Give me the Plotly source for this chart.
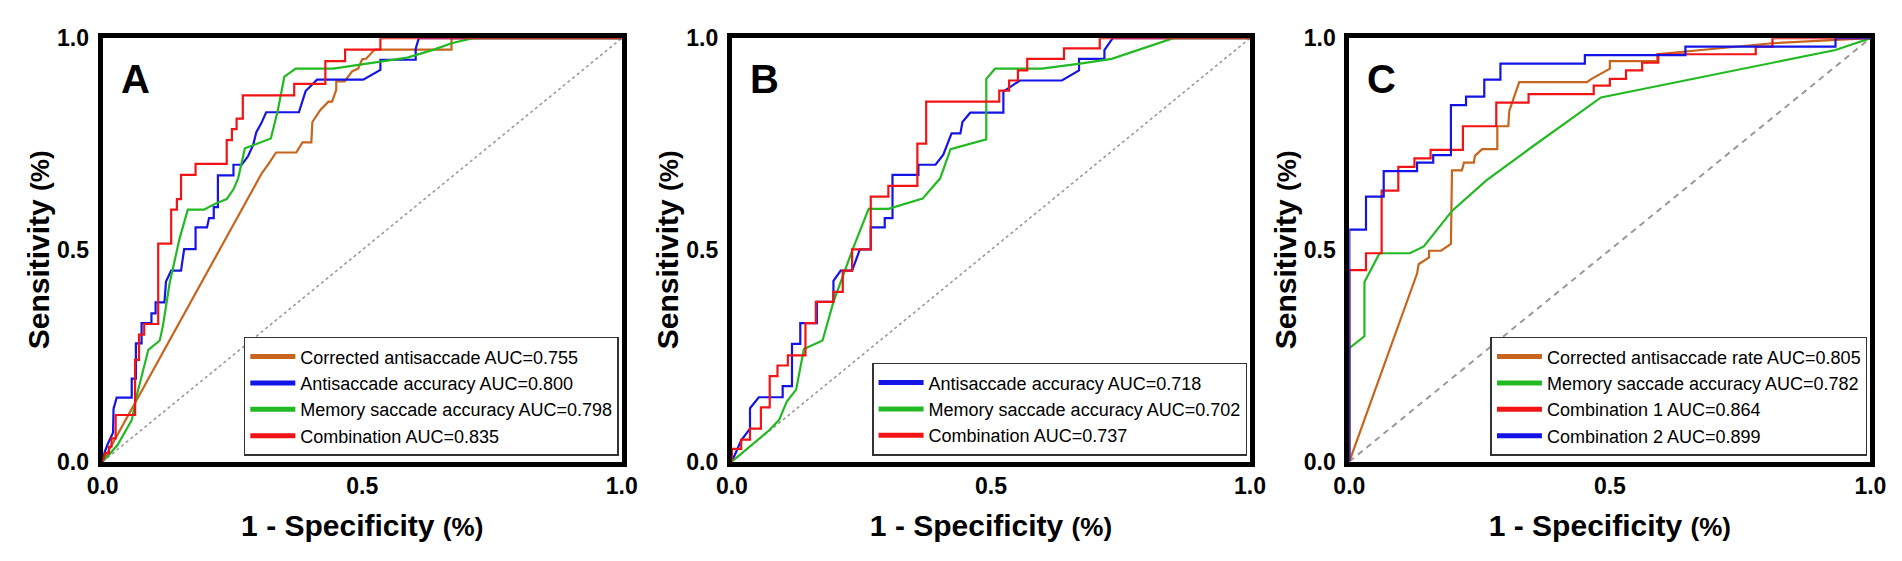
import plotly.graph_objects as go

# ---- panel A ----
a_corr_x = [0, 0.307, 0.319, 0.334, 0.373, 0.385, 0.402, 0.404, 0.419, 0.435, 0.442, 0.45, 0.45, 0.466,
            0.481, 0.492, 0.5, 0.508, 0.524, 0.672, 0.672, 1]
a_corr_y = [0, 0.682, 0.702, 0.73, 0.73, 0.754, 0.754, 0.802, 0.83, 0.85, 0.85, 0.878, 0.898, 0.898,
            0.922, 0.928, 0.95, 0.952, 0.973, 0.973, 1.0, 1]
a_anti_x = [0, 0.004, 0.01, 0.02, 0.021, 0.027, 0.056, 0.056, 0.064, 0.064, 0.075, 0.075, 0.094, 0.094,
            0.102, 0.102, 0.119, 0.122, 0.132, 0.151, 0.157, 0.179, 0.179, 0.201, 0.205, 0.214, 0.214,
            0.222, 0.222, 0.252, 0.252, 0.268, 0.28, 0.29, 0.296, 0.306, 0.315, 0.378, 0.391, 0.413,
            0.502, 0.535, 0.535, 0.603, 0.603, 0.609, 1]
a_anti_y = [0, 0.023, 0.042, 0.068, 0.125, 0.151, 0.151, 0.196, 0.196, 0.279, 0.279, 0.327, 0.327, 0.35,
            0.35, 0.376, 0.376, 0.425, 0.451, 0.451, 0.502, 0.502, 0.553, 0.553, 0.575, 0.575, 0.601,
            0.601, 0.676, 0.676, 0.701, 0.701, 0.721, 0.748, 0.778, 0.8, 0.825, 0.825, 0.875, 0.902,
            0.902, 0.925, 0.949, 0.949, 0.975, 1.0, 1]
a_mem_x = [0, 0.028, 0.056, 0.066, 0.088, 0.11, 0.116, 0.129, 0.148, 0.164, 0.195, 0.217, 0.239, 0.252,
           0.261, 0.274, 0.324, 0.337, 0.35, 0.372, 0.444, 0.527, 0.587, 0.638, 0.672, 0.713, 1]
a_mem_y = [0, 0.038, 0.098, 0.158, 0.264, 0.286, 0.32, 0.421, 0.526, 0.595, 0.595, 0.609, 0.62, 0.643,
           0.669, 0.74, 0.763, 0.827, 0.909, 0.928, 0.928, 0.943, 0.954, 0.973, 0.988, 1.0, 1]
a_comb_x = [0, 0.005, 0.012, 0.012, 0.017, 0.017, 0.025, 0.025, 0.0625, 0.0625, 0.07, 0.07, 0.08, 0.08,
            0.107, 0.107, 0.132, 0.132, 0.143, 0.143, 0.151, 0.151, 0.179, 0.179, 0.239, 0.239, 0.249,
            0.249, 0.258, 0.258, 0.27, 0.27, 0.369, 0.369, 0.429, 0.429, 0.467, 0.467, 0.535, 0.535, 1]
a_comb_y = [0, 0.02, 0.02, 0.035, 0.035, 0.055, 0.055, 0.11, 0.11, 0.24, 0.24, 0.30, 0.30, 0.325,
            0.325, 0.515, 0.515, 0.595, 0.595, 0.62, 0.62, 0.677, 0.677, 0.703, 0.703, 0.759, 0.759,
            0.785, 0.785, 0.81, 0.81, 0.865, 0.865, 0.892, 0.892, 0.946, 0.946, 0.973, 0.973, 1.0, 1]

# ---- panel B ----
b_anti_x = [0, 0.018, 0.035, 0.035, 0.052, 0.098, 0.098, 0.116, 0.116, 0.132, 0.132, 0.164, 0.164, 0.196,
            0.196, 0.21, 0.232, 0.247, 0.268, 0.268, 0.295, 0.295, 0.31, 0.31, 0.36, 0.36, 0.393, 0.408,
            0.424, 0.441, 0.445, 0.46, 0.524, 0.524, 0.541, 0.556, 0.637, 0.67, 0.67, 0.719, 0.719,
            0.735, 1]
b_anti_y = [0, 0.05, 0.078, 0.126, 0.152, 0.152, 0.178, 0.178, 0.278, 0.278, 0.327, 0.327, 0.377, 0.377,
            0.427, 0.451, 0.451, 0.501, 0.501, 0.553, 0.553, 0.575, 0.575, 0.677, 0.677, 0.701, 0.701,
            0.725, 0.775, 0.775, 0.802, 0.824, 0.824, 0.874, 0.888, 0.9, 0.9, 0.924, 0.951, 0.951, 0.972,
            1.0, 1]
b_mem_x = [0, 0.072, 0.091, 0.106, 0.124, 0.139, 0.175, 0.196, 0.233, 0.264, 0.302, 0.368, 0.402, 0.422,
           0.491, 0.491, 0.508, 0.598, 0.672, 0.733, 0.852, 1]
b_mem_y = [0, 0.074, 0.098, 0.142, 0.17, 0.266, 0.286, 0.377, 0.501, 0.597, 0.597, 0.621, 0.669, 0.738,
           0.761, 0.904, 0.928, 0.928, 0.94, 0.951, 1.0, 1]
b_comb_x = [0, 0, 0.018, 0.018, 0.035, 0.035, 0.056, 0.056, 0.073, 0.073, 0.088, 0.088, 0.108, 0.108,
            0.142, 0.142, 0.162, 0.162, 0.196, 0.196, 0.214, 0.214, 0.232, 0.232, 0.268, 0.268, 0.302,
            0.302, 0.358, 0.358, 0.375, 0.375, 0.516, 0.516, 0.535, 0.535, 0.552, 0.552, 0.57, 0.57,
            0.641, 0.641, 0.71, 0.71, 1]
b_comb_y = [0, 0.03, 0.03, 0.052, 0.052, 0.078, 0.078, 0.128, 0.128, 0.202, 0.202, 0.227, 0.227, 0.251,
            0.251, 0.327, 0.327, 0.377, 0.377, 0.401, 0.401, 0.451, 0.451, 0.501, 0.501, 0.626, 0.626,
            0.651, 0.651, 0.751, 0.751, 0.85, 0.85, 0.876, 0.876, 0.9, 0.9, 0.924, 0.924, 0.951, 0.951,
            0.976, 0.976, 1.0, 1]

# ---- panel C ----
c_corr_x = [0, 0.13, 0.133, 0.143, 0.153, 0.153, 0.176, 0.195, 0.197, 0.216, 0.22, 0.239, 0.241, 0.255,
            0.284, 0.284, 0.305, 0.307, 0.326, 0.456, 0.465, 0.5, 0.5, 0.591, 0.591, 0.812, 1]
c_corr_y = [0, 0.444, 0.466, 0.474, 0.482, 0.498, 0.498, 0.514, 0.688, 0.688, 0.706, 0.706, 0.722, 0.738,
            0.738, 0.792, 0.792, 0.828, 0.896, 0.896, 0.904, 0.928, 0.946, 0.946, 0.962, 0.988, 1]
c_mem_x = [0, 0, 0.029, 0.029, 0.058, 0.116, 0.143, 0.197, 0.263, 0.347, 0.483, 0.933, 1]
c_mem_y = [0, 0.268, 0.296, 0.424, 0.492, 0.492, 0.508, 0.592, 0.664, 0.74, 0.86, 0.972, 1]
c_comb1_x = [0, 0, 0.032, 0.032, 0.062, 0.062, 0.094, 0.094, 0.125, 0.125, 0.156, 0.156, 0.218, 0.218,
             0.282, 0.282, 0.344, 0.344, 0.469, 0.469, 0.5, 0.5, 0.531, 0.531, 0.562, 0.562, 0.593, 0.593,
             0.78, 0.78, 0.812, 0.812, 1]
c_comb1_y = [0, 0.452, 0.452, 0.492, 0.492, 0.64, 0.64, 0.696, 0.696, 0.716, 0.716, 0.736, 0.736, 0.792,
             0.792, 0.848, 0.848, 0.868, 0.868, 0.888, 0.888, 0.904, 0.904, 0.924, 0.924, 0.942, 0.942,
             0.962, 0.962, 0.98, 0.98, 1.0, 1]
c_comb2_x = [0, 0, 0.032, 0.032, 0.066, 0.066, 0.13, 0.13, 0.161, 0.161, 0.195, 0.195, 0.224, 0.224,
             0.259, 0.259, 0.29, 0.29, 0.452, 0.452, 0.645, 0.645, 0.933, 0.933, 1]
c_comb2_y = [0, 0.548, 0.548, 0.626, 0.626, 0.686, 0.686, 0.706, 0.706, 0.724, 0.724, 0.842, 0.842, 0.862,
             0.862, 0.902, 0.902, 0.94, 0.94, 0.96, 0.96, 0.98, 0.98, 1.0, 1]

tick_vals = [0, 0.5, 1]
tick_text = ["0.0", "0.5", "1.0"]

BROWN = "#c8641c"
BLUE = "#1414e6"
GREEN = "#22b922"
RED = "#f21414"

panels = [
    ("A", [("Corrected antisaccade AUC=0.755", a_corr_x, a_corr_y, BROWN),
           ("Antisaccade accuracy AUC=0.800", a_anti_x, a_anti_y, BLUE),
           ("Memory saccade accuracy AUC=0.798", a_mem_x, a_mem_y, GREEN),
           ("Combination AUC=0.835", a_comb_x, a_comb_y, RED)], "dot"),
    ("B", [("Antisaccade accuracy AUC=0.718", b_anti_x, b_anti_y, BLUE),
           ("Memory saccade accuracy AUC=0.702", b_mem_x, b_mem_y, GREEN),
           ("Combination AUC=0.737", b_comb_x, b_comb_y, RED)], "dot"),
    ("C", [("Corrected antisaccade rate AUC=0.805", c_corr_x, c_corr_y, BROWN),
           ("Memory saccade accuracy AUC=0.782", c_mem_x, c_mem_y, GREEN),
           ("Combination 1 AUC=0.864", c_comb1_x, c_comb1_y, RED),
           ("Combination 2 AUC=0.899", c_comb2_x, c_comb2_y, BLUE)], "dash"),
]

W, H = 1902, 561
x_domains = [(80 / W, 608 / W), (720 / W, 1247 / W), (1348 / W, 1878 / W)]
y_domain = (1 - 462 / H, 1 - 18 / H)

FONT = "Liberation Sans, Arial, sans-serif"
fig = go.Figure()
layout = dict(width=W, height=H, margin=dict(l=0, r=0, t=0, b=0),
              paper_bgcolor="white", plot_bgcolor="white",
              font=dict(family=FONT, color="black"), annotations=[])

for i, (letter, curves, diag) in enumerate(panels):
    n = "" if i == 0 else str(i + 1)
    xa, ya = "x" + n, "y" + n
    lg = "legend" + n

    fig.add_trace(go.Scatter(x=[0, 1], y=[0, 1], mode="lines", xaxis=xa, yaxis=ya, showlegend=False,
                             line=dict(color="#9a9a9a", width=1.6 if diag == "dot" else 2,
                                       dash="dot" if diag == "dot" else "6px,5px"),
                             hoverinfo="skip"))
    for name, xs, ys, col in curves:
        fig.add_trace(go.Scatter(x=xs, y=ys, mode="lines", xaxis=xa, yaxis=ya, name=name,
                                 showlegend=False, cliponaxis=False,
                                 line=dict(color=col, width=2.2)))
    # thicker legend keys
    for name, xs, ys, col in curves:
        fig.add_trace(go.Scatter(x=[None], y=[None], mode="lines", xaxis=xa, yaxis=ya, name=name,
                                 legend=lg, line=dict(color=col, width=5)))

    common = dict(range=[0, 1], showgrid=False, zeroline=False, showline=True, linecolor="black",
                  linewidth=5, mirror=True, ticks="", tickvals=tick_vals, ticktext=tick_text,
                  tickfont=dict(size=23, family=FONT, weight="bold"), layer="below traces")
    layout["xaxis" + n] = dict(common, domain=list(x_domains[i]), anchor=ya, ticklabelstandoff=0,
                               title=dict(text="<b>1 - Specificity <span style='font-size:26px'>(%)</span></b>",
                                          standoff=18, font=dict(size=30, family=FONT)))
    layout["yaxis" + n] = dict(common, domain=list(y_domain), anchor=xa, ticklabelstandoff=4,
                               title=dict(text="<b>Sensitivity <span style='font-size:26px'>(%)</span></b>",
                                          standoff=0, font=dict(size=30, family=FONT)))
    layout[lg] = dict(x=x_domains[i][1] - 3 / W, y=y_domain[0] + 6 / H, xanchor="right", yanchor="bottom",
                      bgcolor="white", bordercolor="#333", borderwidth=1.5, tracegroupgap=0,
                      font=dict(size=18, family=FONT, color="black"), itemwidth=45)
    layout["annotations"].append(dict(text="<b>%s</b>" % letter, xref=xa + " domain", yref=ya + " domain",
                                      x=0.0625, y=0.903, xanchor="center", yanchor="middle",
                                      showarrow=False, font=dict(size=40, family=FONT)))

fig.update_layout(**layout)
fig.write_html("out.html")
